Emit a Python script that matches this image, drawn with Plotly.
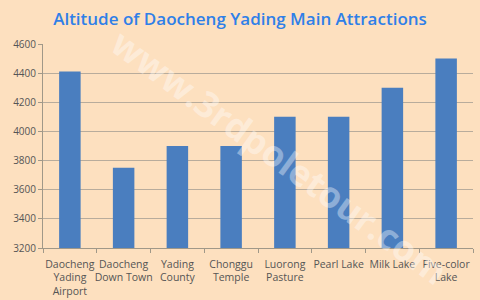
import plotly.graph_objects as go

categories = ["Daocheng<br>Yading<br>Airport", "Daocheng<br>Down Town", "Yading<br>County",
              "Chonggu<br>Temple", "Luorong<br>Pasture", "Pearl Lake", "Milk Lake", "Five-color<br>Lake"]
altitudes = [4411, 3750, 3900, 3900, 4100, 4100, 4300, 4500]
y_ticks = [3200, 3400, 3600, 3800, 4000, 4200, 4400, 4600]

bg = "#FDE0BF"
fig = go.Figure(go.Bar(x=categories, y=altitudes, marker=dict(color="#4A7EBF", line=dict(width=0)),
                       width=0.4))

fig.update_layout(
    width=480, height=300,
    paper_bgcolor=bg, plot_bgcolor=bg,
    margin=dict(l=43, r=7, t=44, b=52, autoexpand=False),
    title=dict(text="Altitude of Daocheng Yading Main Attractions", x=0.5, xanchor="center",
               y=0.935, yanchor="middle",
               font=dict(family="Open Sans", size=17, weight=600, color="#2F7FE8")),
    showlegend=False,
    font=dict(family="Open Sans", size=10, color="#555555"),
    xaxis=dict(showline=True, linecolor="#A09888", linewidth=1, ticks="outside", ticklen=4,
               tickcolor="#A09888", tickson="boundaries", tickangle=0, automargin=False,
               ticklabelstandoff=6,
               tickfont=dict(size=10.5, color="#555555")),
    yaxis=dict(range=[3200, 4600], tickvals=y_ticks, showgrid=True, gridcolor="#B8AC9C",
               showline=True, linecolor="#A09888", ticks="outside", ticklen=4, tickcolor="#A09888",
               automargin=False, tickfont=dict(size=10, color="#555555"), zeroline=False),
)

fig.add_annotation(text="www.3rdpoletour.com", x=0.55, y=0.45, xref="paper", yref="paper",
                   showarrow=False, textangle=36,
                   font=dict(family="Open Sans", size=36, weight=700, color="rgba(255,255,255,0.38)"))

fig.write_html("out.html")
